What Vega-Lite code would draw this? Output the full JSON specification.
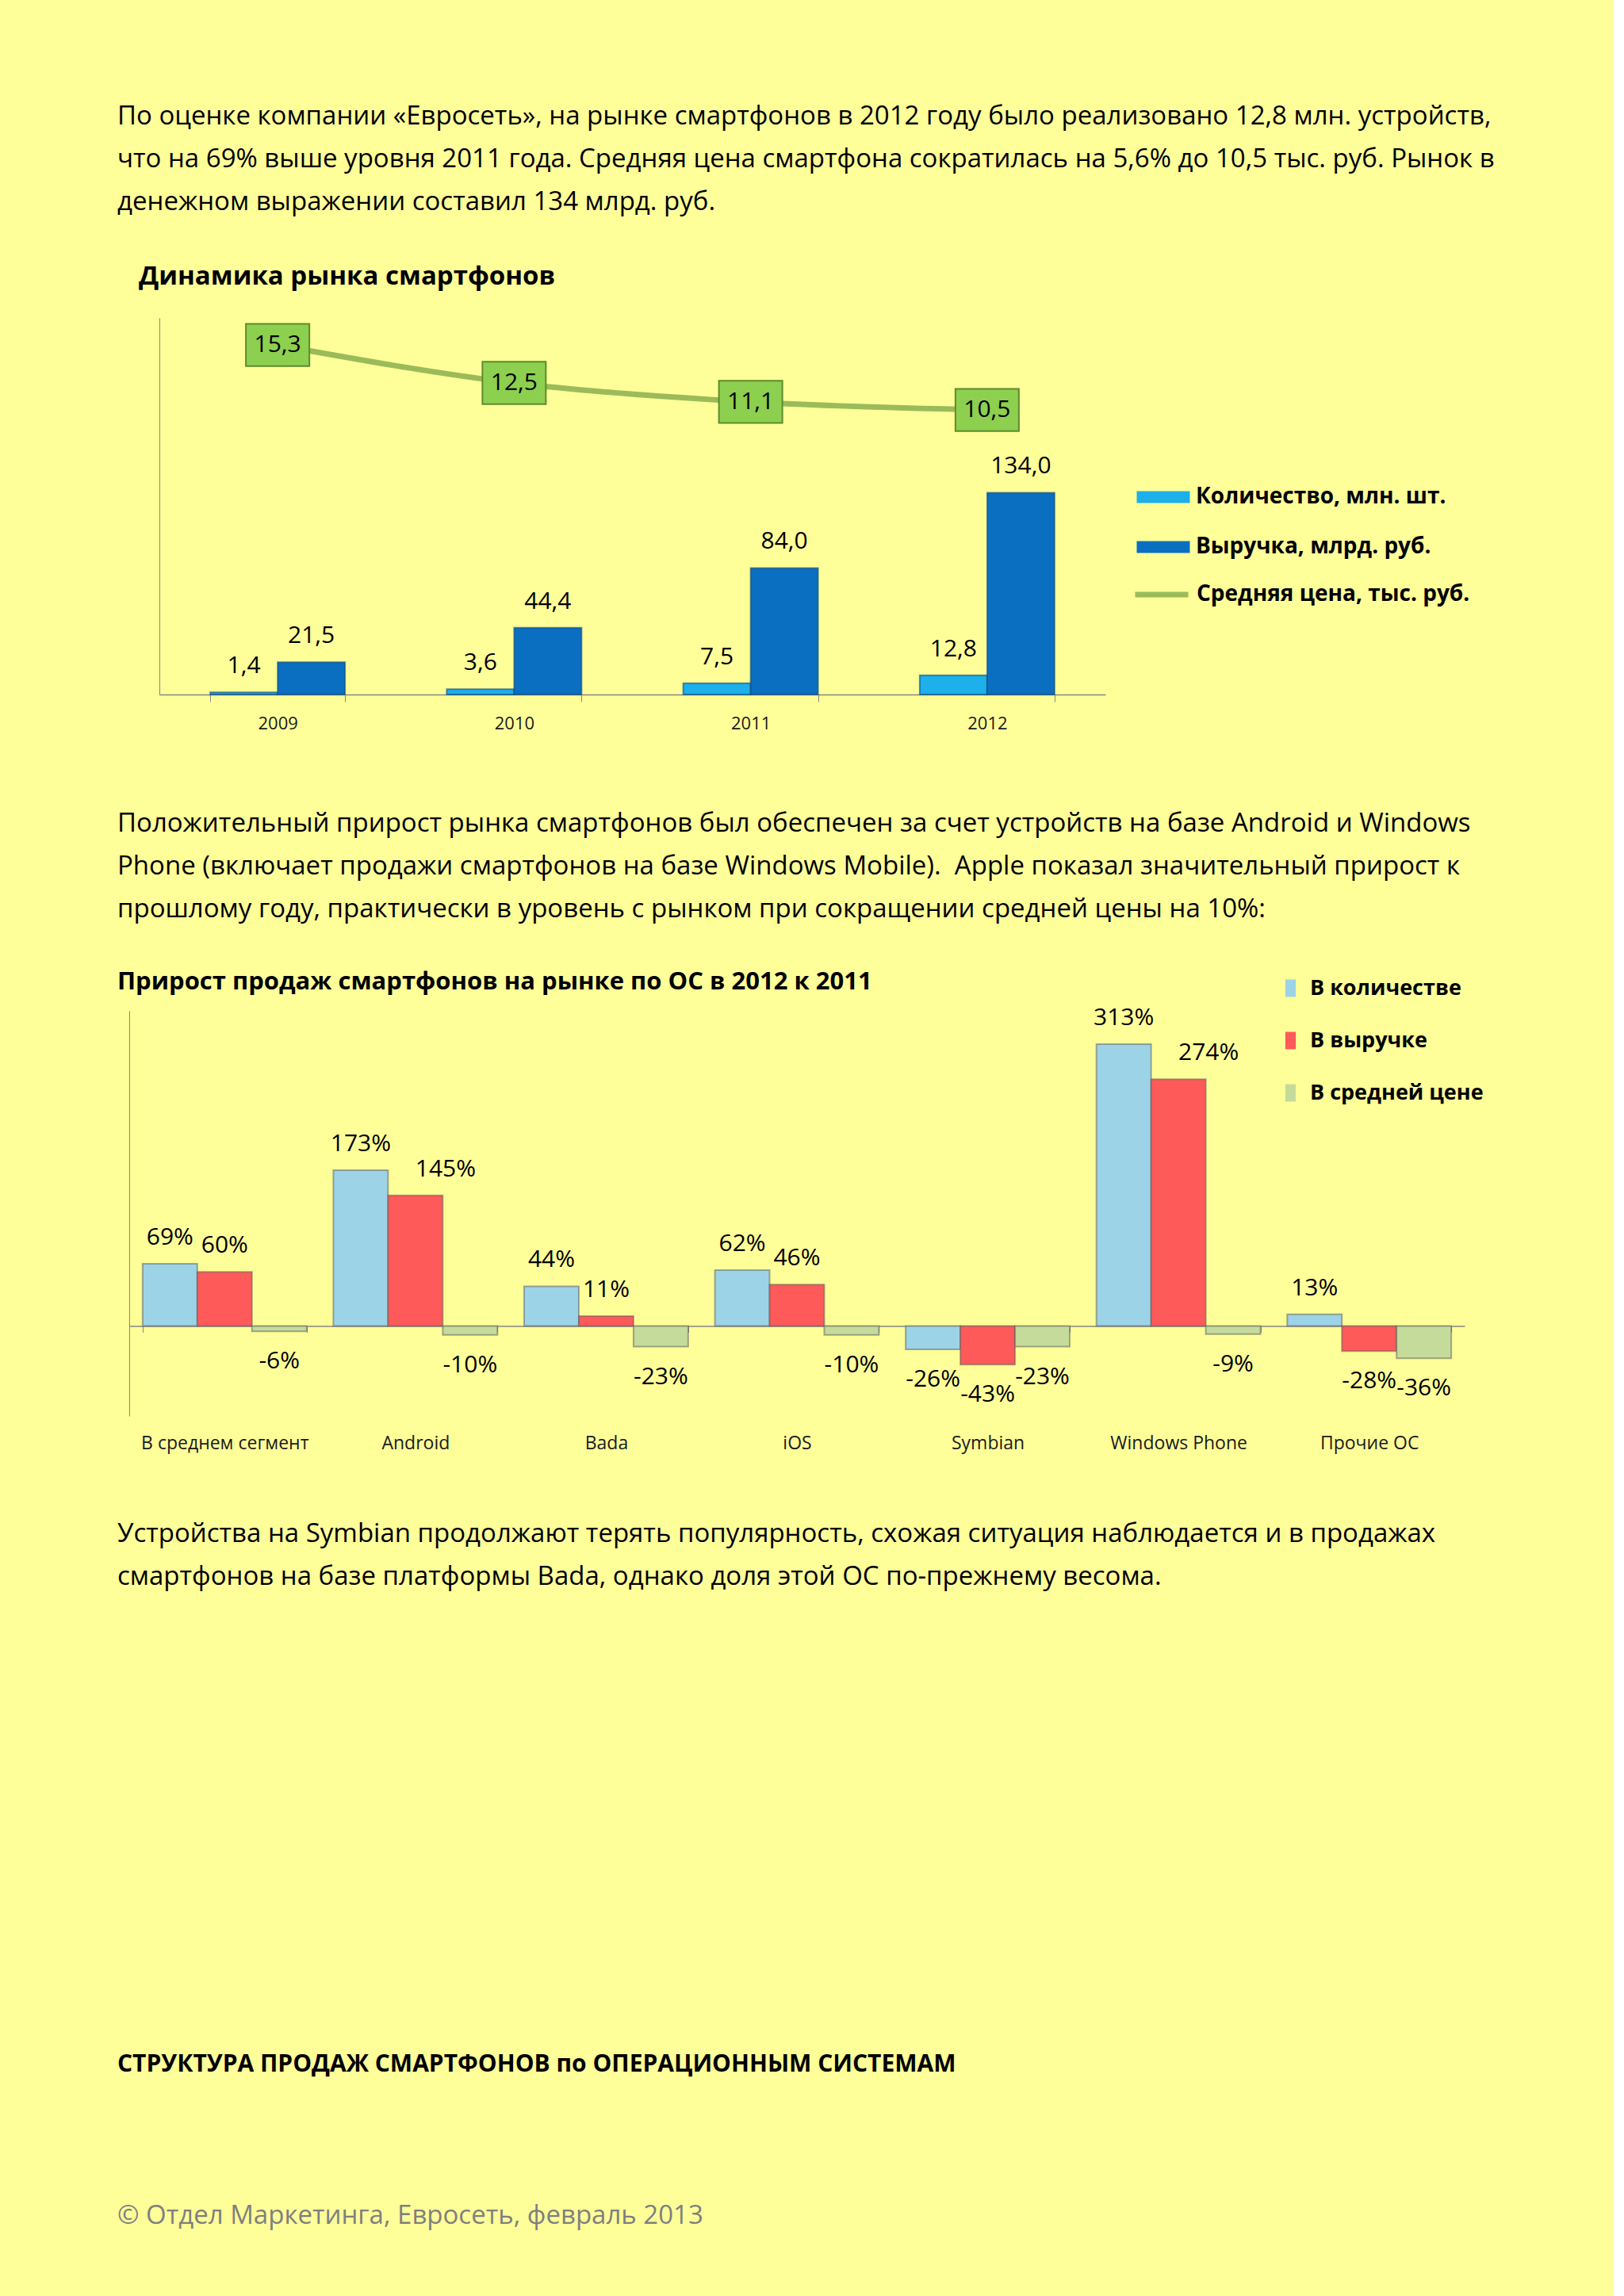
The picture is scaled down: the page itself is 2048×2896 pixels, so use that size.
{
  "$schema": "https://vega.github.io/schema/vega-lite/v6.json",
  "background": "#FFFF99",
  "padding": {"left": 148, "top": 131, "right": 150, "bottom": 100},
  "spacing": 86,
  "config": {
    "locale": {"number": {"decimal": ",", "thousands": " ", "grouping": [3], "currency": ["", ""], "minus": "-"}},
    "font": "Open Sans",
    "view": {"stroke": null},
    "title": {"anchor": "start", "frame": "group", "font": "Open Sans", "fontSize": 33, "fontWeight": "normal", "color": "#000000", "lineHeight": 54, "subtitleFont": "Open Sans", "subtitleColor": "#000000", "subtitleFontWeight": "bold"},
    "axis": {"grid": false, "domainColor": "#868686", "tickColor": "#868686", "labelFont": "Open Sans", "labelColor": "#1a1a1a"},
    "legend": {"labelFont": "Open Sans", "labelFontWeight": "bold", "labelColor": "#000000", "labelFontSize": 27, "labelLimit": 0}
  },
  "title": {
    "text": [
      "По оценке компании «Евросеть», на рынке смартфонов в 2012 году было реализовано 12,8 млн. устройств,",
      "что на 69% выше уровня 2011 года. Средняя цена смартфона сократилась на 5,6% до 10,5 тыс. руб. Рынок в",
      "денежном выражении составил 134 млрд. руб."
    ],
    "anchor": "start", "offset": 61, "dx": -15
  },
  "resolve": {"scale": {"x": "independent", "y": "independent", "color": "independent", "stroke": "independent", "xOffset": "independent"}, "legend": {"color": "independent", "stroke": "independent"}},
  "vconcat": [
    {
      "title": {"text": "Динамика рынка смартфонов", "fontSize": 33, "fontWeight": "bold", "offset": 35, "dx": 12},
      "width": 1231,
      "height": 536,
      "data": {"values": [
        {"year": "2009", "series": "Количество, млн. шт.", "value": 1.4},
        {"year": "2009", "series": "Выручка, млрд. руб.", "value": 21.5},
        {"year": "2009", "series": "Средняя цена, тыс. руб.", "value": 15.3},
        {"year": "2010", "series": "Количество, млн. шт.", "value": 3.6},
        {"year": "2010", "series": "Выручка, млрд. руб.", "value": 44.4},
        {"year": "2010", "series": "Средняя цена, тыс. руб.", "value": 12.5},
        {"year": "2011", "series": "Количество, млн. шт.", "value": 7.5},
        {"year": "2011", "series": "Выручка, млрд. руб.", "value": 84.0},
        {"year": "2011", "series": "Средняя цена, тыс. руб.", "value": 11.1},
        {"year": "2012", "series": "Количество, млн. шт.", "value": 12.8},
        {"year": "2012", "series": "Выручка, млрд. руб.", "value": 134.0},
        {"year": "2012", "series": "Средняя цена, тыс. руб.", "value": 10.5}
      ]},
      "encoding": {
        "x": {"field": "year", "type": "nominal", "sort": null,
          "scale": {"range": [38, 1231], "paddingInner": 0.43, "paddingOuter": 0.215},
          "axis": {"title": null, "labelAngle": 0, "labelFontSize": 22, "tickBand": "extent", "tickSize": 9, "labelPadding": 17, "domainWidth": 1.5, "offset": -61}}
      },
      "layer": [
        {
          "transform": [{"filter": "datum.series !== 'Средняя цена, тыс. руб.'"}],
          "encoding": {
            "y": {"field": "value", "type": "quantitative", "scale": {"domain": [0, 250], "range": [475, 0], "nice": false},
              "axis": {"title": null, "labels": false, "ticks": false, "domain": true, "grid": false, "offset": -38}},
            "xOffset": {"field": "series", "type": "nominal", "scale": {"domain": ["Количество, млн. шт.", "Выручка, млрд. руб."]}}
          },
          "layer": [
            {"mark": {"type": "bar", "stroke": "#0A4A80", "strokeWidth": 2, "strokeOpacity": 0.6},
              "encoding": {"color": {"field": "series", "type": "nominal",
                "scale": {"domain": ["Количество, млн. шт.", "Выручка, млрд. руб."], "range": ["#1DB0EA", "#0B6FC1"]},
                "legend": {"orient": "none", "legendX": 1287, "legendY": 209, "title": null, "labelFontSize": 28,
                  "symbolType": "M-2,-0.45H2V0.45H-2Z", "symbolSize": 1122, "labelOffset": 24, "rowPadding": 32, "symbolStrokeWidth": 0}}}},
            {"mark": {"type": "text", "fontSize": 30, "baseline": "middle", "dy": -33, "color": "#000000"},
              "encoding": {"text": {"field": "value", "type": "quantitative", "format": ".1f"}}}
          ]
        },
        {
          "transform": [{"filter": "datum.series === 'Средняя цена, тыс. руб.'"}],
          "encoding": {
            "y": {"field": "value", "type": "quantitative", "scale": {"domain": [-10.5, 17.3], "range": [475, 0], "nice": false, "zero": false}, "axis": null}
          },
          "layer": [
            {"mark": {"type": "line", "interpolate": "monotone", "strokeWidth": 7, "strokeCap": "round"},
              "encoding": {"stroke": {"field": "series", "type": "nominal",
                "scale": {"domain": ["Средняя цена, тыс. руб."], "range": ["#9BBB59"]},
                "legend": {"orient": "none", "legendX": 1265, "legendY": 312, "title": null, "labelFontSize": 28,
                  "symbolType": "stroke", "symbolSize": 4489, "symbolStrokeWidth": 7, "labelOffset": 7}}}},
            {"mark": {"type": "point", "shape": "M-1.5,-1H1.5V1H-1.5Z", "size": 2844, "filled": true, "fill": "#8DCF4F", "stroke": "#5E8C2E", "strokeWidth": 2, "opacity": 1}},
            {"mark": {"type": "text", "fontSize": 30, "baseline": "middle", "color": "#000000"},
              "encoding": {"text": {"field": "value", "type": "quantitative", "format": ".1f"}}}
          ]
        }
      ],
      "resolve": {"scale": {"y": "independent"}}
    },
    {
      "title": {
        "text": [
          "Положительный прирост рынка смартфонов был обеспечен за счет устройств на базе Android и Windows",
          "Phone (включает продажи смартфонов на базе Windows Mobile).\u00a0 Apple показал значительный прирост к",
          "прошлому году, практически в уровень с рынком при сокращении средней цены на 10%:"
        ],
        "subtitle": "Прирост продаж смартфонов на рынке по ОС в 2012 к 2011",
        "subtitleFontSize": 31,
        "subtitlePadding": 60,
        "offset": -21,
        "dx": -15
      },
      "width": 1684,
      "height": 511,
      "data": {"values": [
        {"os": "В среднем сегмент", "measure": "В количестве", "v": 0.69},
        {"os": "В среднем сегмент", "measure": "В выручке", "v": 0.60},
        {"os": "В среднем сегмент", "measure": "В средней цене", "v": -0.06},
        {"os": "Android", "measure": "В количестве", "v": 1.73},
        {"os": "Android", "measure": "В выручке", "v": 1.45},
        {"os": "Android", "measure": "В средней цене", "v": -0.10},
        {"os": "Bada", "measure": "В количестве", "v": 0.44},
        {"os": "Bada", "measure": "В выручке", "v": 0.11},
        {"os": "Bada", "measure": "В средней цене", "v": -0.23},
        {"os": "iOS", "measure": "В количестве", "v": 0.62},
        {"os": "iOS", "measure": "В выручке", "v": 0.46},
        {"os": "iOS", "measure": "В средней цене", "v": -0.10},
        {"os": "Symbian", "measure": "В количестве", "v": -0.26},
        {"os": "Symbian", "measure": "В выручке", "v": -0.43},
        {"os": "Symbian", "measure": "В средней цене", "v": -0.23},
        {"os": "Windows Phone", "measure": "В количестве", "v": 3.13},
        {"os": "Windows Phone", "measure": "В выручке", "v": 2.74},
        {"os": "Windows Phone", "measure": "В средней цене", "v": -0.09},
        {"os": "Прочие ОС", "measure": "В количестве", "v": 0.13},
        {"os": "Прочие ОС", "measure": "В выручке", "v": -0.28},
        {"os": "Прочие ОС", "measure": "В средней цене", "v": -0.36}
      ]},
      "encoding": {
        "x": {"field": "os", "type": "nominal", "sort": null,
          "scale": {"paddingInner": 0.14, "paddingOuter": 0.07},
          "axis": {"title": null, "labelAngle": 0, "labelFontSize": 23, "labelLimit": 400, "tickBand": "extent", "tickSize": 8, "labelPadding": 129, "offset": -113.6, "domainWidth": 1.5}},
        "xOffset": {"field": "measure", "type": "nominal", "sort": ["В количестве", "В выручке", "В средней цене"]},
        "y": {"field": "v", "type": "quantitative", "scale": {"domain": [-1, 3.5], "nice": false},
          "axis": {"title": null, "labels": false, "ticks": false, "domain": true, "grid": false}}
      },
      "layer": [
        {"mark": {"type": "bar", "stroke": "#5a5a5a", "strokeWidth": 2, "strokeOpacity": 0.5},
          "encoding": {"color": {"field": "measure", "type": "nominal",
            "scale": {"domain": ["В количестве", "В выручке", "В средней цене"], "range": ["#9DD3E7", "#FF5A5A", "#C5DB9C"]},
            "legend": {"orient": "none", "legendX": 1451, "legendY": -42, "title": null,
              "symbolType": "M-0.6,-1H0.6V1H-0.6Z", "symbolSize": 484, "labelOffset": 11, "rowPadding": 38, "symbolStrokeWidth": 0}}}},
        {"transform": [{"filter": "datum.v >= 0 && !(datum.measure === 'В выручке' && datum.v > 1)"}],
          "mark": {"type": "text", "fontSize": 30, "baseline": "middle", "dy": -33, "color": "#000000"},
          "encoding": {"text": {"field": "v", "type": "quantitative", "format": ".0%"}}},
        {"transform": [{"filter": "datum.measure === 'В выручке' && datum.v > 1"}],
          "mark": {"type": "text", "fontSize": 30, "baseline": "middle", "dy": -33, "dx": 38, "color": "#000000"},
          "encoding": {"text": {"field": "v", "type": "quantitative", "format": ".0%"}}},
        {"transform": [{"filter": "datum.v < 0"}],
          "mark": {"type": "text", "fontSize": 30, "baseline": "middle", "dy": 38, "color": "#000000"},
          "encoding": {"text": {"field": "v", "type": "quantitative", "format": ".0%"}}}
      ]
    },
    {
      "title": {
        "text": [
          "Устройства на Symbian продолжают терять популярность, схожая ситуация наблюдается и в продажах",
          "смартфонов на базе платформы Bada, однако доля этой ОС по-прежнему весома."
        ],
        "subtitle": "СТРУКТУРА ПРОДАЖ СМАРТФОНОВ по ОПЕРАЦИОННЫМ СИСТЕМАМ",
        "subtitleFontSize": 30,
        "subtitlePadding": 583,
        "offset": 0,
        "dx": -15
      },
      "width": 1,
      "height": 74,
      "data": {"values": []},
      "mark": {"type": "point", "opacity": 0}
    },
    {
      "title": {"text": "© Отдел Маркетинга, Евросеть, февраль 2013", "fontSize": 33, "color": "#7F7F7F", "offset": 0, "dx": -15},
      "width": 1,
      "height": 1,
      "data": {"values": []},
      "mark": {"type": "point", "opacity": 0}
    }
  ]
}
